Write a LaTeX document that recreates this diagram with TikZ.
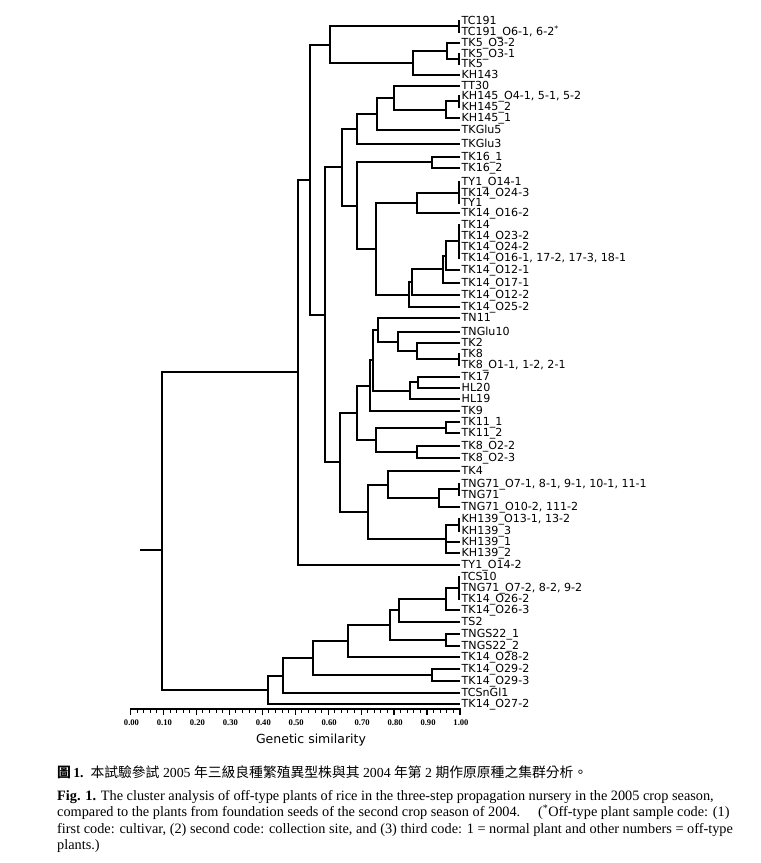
\documentclass[tikz,border=0pt]{standalone}
\usepackage{fontspec}
\setmainfont{Liberation Serif}
\newfontfamily\leaffont{DejaVu Sans}
\newfontfamily\cjk{Noto Sans CJK TC}
\usetikzlibrary{calc}
\tikzset{
  branch/.style={line width=2pt, line cap=rect},
  leaf/.style={anchor=west, inner sep=0pt, font=\leaffont\fontsize{11.1}{12}\selectfont, text height=8pt, text depth=1pt},
  ticklabel/.style={inner sep=0pt, font=\bfseries\fontsize{8.6}{9}\selectfont},
  captionline/.style={anchor=west, inner sep=0pt, font=\fontsize{14.3}{16}\selectfont, text height=10pt, text depth=3pt},
}

\begin{document}
\begin{tikzpicture}[x=1pt,y=-1pt]
    \useasboundingbox (0,0) rectangle (761,863);

    \foreach \i/\y/\t in {
        1/21/TC191, 2/32/{TC191\_O6-1, 6-2\textsuperscript{*}}, 3/43/TK5\_O3-2, 4/54/TK5\_O3-1, 5/64/TK5,
        6/75/KH143, 7/86/TT30, 8/96/{KH145\_O4-1, 5-1, 5-2}, 9/107/KH145\_2, 10/118/KH145\_1,
        11/130/TKGlu5, 12/144/TKGlu3, 13/157/TK16\_1, 14/168/TK16\_2, 15/182/TY1\_O14-1,
        16/193/TK14\_O24-3, 17/203/TY1, 18/213/TK14\_O16-2, 19/225/TK14, 20/236/TK14\_O23-2,
        21/247/TK14\_O24-2, 22/258/{TK14\_O16-1, 17-2, 17-3, 18-1}, 23/270/TK14\_O12-1, 24/283/TK14\_O17-1, 25/295/TK14\_O12-2,
        26/307/TK14\_O25-2, 27/318/TN11, 28/332/TNGlu10, 29/343/TK2, 30/354/TK8,
        31/365/{TK8\_O1-1, 1-2, 2-1}, 32/377/TK17, 33/388/HL20, 34/399/HL19, 35/411/TK9,
        36/422/TK11\_1, 37/433/TK11\_2, 38/446/TK8\_O2-2, 39/458/TK8\_O2-3, 40/471/TK4,
        41/484/{TNG71\_O7-1, 8-1, 9-1, 10-1, 11-1}, 42/495/TNG71, 43/507/{TNG71\_O10-2, 111-2}, 44/519/{KH139\_O13-1, 13-2}, 45/531/KH139\_3,
        46/542/KH139\_1, 47/553/KH139\_2, 48/565/TY1\_O14-2, 49/577/TCS10, 50/588/{TNG71\_O7-2, 8-2, 9-2},
        51/599/TK14\_O26-2, 52/610/TK14\_O26-3, 53/622/TS2, 54/634/TNGS22\_1, 55/646/TNGS22\_2,
        56/657/TK14\_O28-2, 57/669/TK14\_O29-2, 58/681/TK14\_O29-3, 59/693/TCSnGl1, 60/704/TK14\_O27-2}{
        \coordinate (l\i) at (459,\y);
        \node[leaf] (t\i) at ($(l\i)+(2.5,0)$) {\t};
    }

    \foreach \a/\b/\g/\y in {1/2/gA/26, 4/5/gB/59, 8/9/gC/101, 15/17/gD/193, 19/22/gE/241, 30/31/gF/359, 41/42/gG/489, 44/45/gH/525, 49/51/gI/588}{
        \coordinate (\g) at (459,\y);
        \draw[branch] (l\a) -- (l\b);
    }

    \coordinate (ne) at (447,51);
    \coordinate (nd) at (413,63);
    \coordinate (nb) at (330,45);
    \coordinate (nf) at (446,110);
    \coordinate (ng) at (394,98);
    \coordinate (nh) at (377,114);
    \coordinate (ni) at (357,129);
    \coordinate (nk) at (432,162);
    \coordinate (nl) at (417,203);
    \coordinate (nm) at (446,256);
    \coordinate (nn) at (443,269);
    \coordinate (no) at (412,282);
    \coordinate (np) at (409,295);
    \coordinate (nq) at (376,249);
    \coordinate (nr) at (357,206);
    \coordinate (ns) at (342,167);
    \coordinate (w1) at (417,351);
    \coordinate (w2) at (398,342);
    \coordinate (w3) at (378,330);
    \coordinate (w4) at (418,382);
    \coordinate (w5) at (410,391);
    \coordinate (w6) at (373,360);
    \coordinate (w7) at (370,386);
    \coordinate (w8) at (446,428);
    \coordinate (w9) at (417,452);
    \coordinate (w10) at (376,440);
    \coordinate (w11) at (357,413);
    \coordinate (w12) at (439,498);
    \coordinate (w13) at (388,485);
    \coordinate (w14) at (446,539);
    \coordinate (w15) at (368,512);
    \coordinate (w16) at (340,462);
    \coordinate (nv) at (325,315);
    \coordinate (na) at (310,180);
    \coordinate (nx) at (298,372);
    \coordinate (z1) at (446,599);
    \coordinate (z2) at (399,610);
    \coordinate (z3) at (446,640);
    \coordinate (z4) at (390,625);
    \coordinate (z5) at (348,641);
    \coordinate (z6) at (432,675);
    \coordinate (z7) at (313,658);
    \coordinate (z8) at (283,676);
    \coordinate (z9) at (268,690);
    \coordinate (root) at (162,550);
    \coordinate (stub) at (141,550);

    \foreach \p/\c in {ne/l3, ne/gB, nd/ne, nd/l6, nb/gA, nb/nd, nf/gC, nf/l10, ng/l7, ng/nf,
        nh/ng, nh/l11, ni/nh, ni/l12, nk/l13, nk/l14, nl/gD, nl/l18, nm/gE, nm/l23,
        nn/nm, nn/l24, no/nn, no/l25, np/no, np/l26, nq/nl, nq/np, nr/nk, nr/nq, ns/ni, ns/nr,
        w1/l29, w1/gF, w2/l28, w2/w1, w3/l27, w3/w2, w4/l32, w4/l33, w5/w4, w5/l34,
        w6/w3, w6/w5, w7/w6, w7/l35, w8/l36, w8/l37, w9/l38, w9/l39, w10/w8, w10/w9,
        w11/w7, w11/w10, w12/gG, w12/l43, w13/l40, w13/w12, w14/gH, w14/l46, w14/l47,
        w15/w13, w15/w14, w16/w11, w16/w15, nv/ns, nv/w16, na/nb, na/nv, nx/na, nx/l48,
        z1/gI, z1/l52, z2/z1, z2/l53, z3/l54, z3/l55, z4/z2, z4/z3, z5/z4, z5/l56,
        z6/l57, z6/l58, z7/z5, z7/z6, z8/z7, z8/l59, z9/z8, z9/l60, root/nx, root/z9}
        \draw[branch] (\p) |- (\c);
    \draw[branch] (stub) -- (root);

    \coordinate (a0) at (130.5,709);
    \coordinate (a1) at (460,709);
    \draw[branch] (a0) -- (a1);
    \foreach \i in {0,...,50}
        \draw[line width=1pt] ($(a0)!\i/50!(a1)$) -- ++(0,3.5);
    \foreach \i/\t in {0/0.00, 1/0.10, 2/0.20, 3/0.30, 4/0.40, 5/0.50, 6/0.60, 7/0.70, 8/0.80, 9/0.90, 10/1.00}{
        \draw[line width=1.3pt] ($(a0)!\i/10!(a1)$) -- ++(0,6);
        \node[ticklabel] (s\i) at ($(a0)!\i/10!(a1)+(1,14)$) {\t};
    }
    \node[font=\leaffont\fontsize{12.5}{14}\selectfont] (simtitle) at (311,740) {Genetic similarity};

    \node[captionline, font=\fontsize{13.8}{16}\selectfont] (zh) at (57,774) {{\cjk\bfseries 圖}\,\textbf{1.}\ \ {\cjk 本試驗參試} 2005 {\cjk 年三級良種繁殖異型株與其} 2004 {\cjk 年第} 2 {\cjk 期作原原種之集群分析。}};
    \node[captionline] (en1) at (57,797) {\textbf{Fig. 1.} The cluster analysis of off-type plants of rice in the three-step propagation nursery in the 2005 crop season,};
    \node[captionline] (en2) at (57,813) {compared to the plants from foundation seeds of the second crop season of 2004.\quad\ (\textsuperscript{*}Off-type plant sample code: (1)};
    \node[captionline] (en3) at (57,830) {first code: cultivar, (2) second code: collection site, and (3) third code: 1 = normal plant and other numbers = off-type};
    \node[captionline] (en4) at (57,846) {plants.)};
\end{tikzpicture}
\end{document}
